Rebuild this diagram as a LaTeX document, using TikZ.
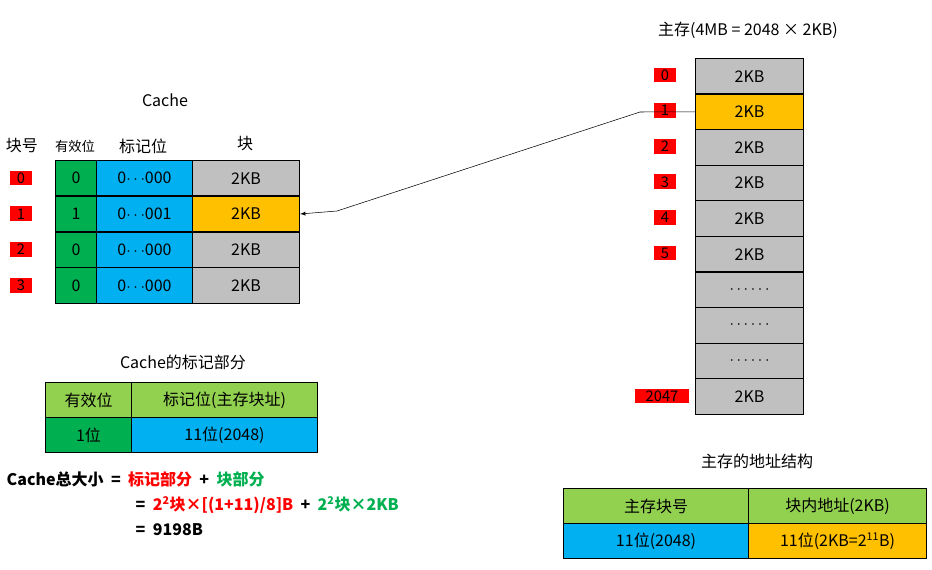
\documentclass[tikz,border=0pt]{standalone}
\usepackage{fontspec}
\setmainfont{Noto Sans CJK SC}
\begin{document}
\begin{tikzpicture}[x=0.75pt,y=-0.75pt,font=\fontsize{12}{14}\selectfont,
 cell/.style={draw=black,line width=0.8pt,minimum width=#1*0.75pt,minimum height=26.5pt,inner sep=0pt,anchor=north west},
 lab/.style={fill=red,minimum width=16pt,minimum height=11pt,inner sep=0pt,font=\fontsize{11}{12}\selectfont},
 gr/.style={fill=gray!50}, og/.style={fill=orange!50!yellow}]
\definecolor{cgreen}{HTML}{00B050}\definecolor{cblue}{HTML}{00B0F0}
\definecolor{lgreen}{HTML}{92D050}\definecolor{corange}{HTML}{FFC000}
\definecolor{cgray}{HTML}{C0C0C0}
\useasboundingbox (0,0) rectangle (932,570);
\node (ct) at (165,100) {Cache};
\node (h1) at (22,146) {块号};
\node[font=\fontsize{10}{12}\selectfont] (h2) at (75,146) {有效位};
\node (h3) at (143,146) {标记位};
\node (h4) at (245,144) {块};
\foreach \i/\v/\t/\c in {0/0/000/cgray,1/1/001/corange,2/0/000/cgray,3/0/000/cgray}{
 \node[lab] (l\i) at (21,{178+35.8*\i}) {\i};
 \node[cell=41,fill=cgreen] (v\i) at (55,{160+35.8*\i}) {\v};
 \node[cell=96,fill=cblue] (t\i) at (96,{160+35.8*\i}) {0$\cdots$\t};
 \node[cell=107,fill=\c] (b\i) at (192,{160+35.8*\i}) {2KB};
}
\node (mt) at (748,30) {主存(4MB = 2048 × 2KB)};
\foreach \i/\t/\c in {0/2KB/cgray,1/2KB/corange,2/2KB/cgray,3/2KB/cgray,4/2KB/cgray,5/2KB/cgray,6/{$\cdots\cdots$}/cgray,7/{$\cdots\cdots$}/cgray,8/{$\cdots\cdots$}/cgray,9/2KB/cgray}{
 \node[cell=108,fill=\c] (m\i) at (695,{58+35.6*\i}) {\t};
}
\foreach \i in {0,...,5}{\node[lab] (ml\i) at (665,{75+35.6*\i}) {\i};}
\node[lab,minimum width=41pt] (ml9) at (662,396) {2047};
\coordinate (k1) at (640,112);
\coordinate (k2) at (337,211);
\draw[-latex] (m1.west) -- (k1) -- (k2) -- (b1.east);
\node (tt) at (183,362) {Cache的标记部分};
\node[cell=86,fill=lgreen] (a1) at (45,382) {有效位};
\node[cell=186,fill=lgreen] (a2) at (131,382) {标记位(主存块址)};
\node[cell=86,fill=cgreen] (a3) at (45,417) {1位};
\node[cell=186,fill=cblue] (a4) at (131,417) {11位(2048)};
\node[anchor=west,font=\fontsize{12}{14}\selectfont\bfseries] (f1) at (2,479) {Cache总大小 \ = \ \textcolor{red}{标记部分} \ + \ \textcolor{cgreen}{块部分}};
\node[anchor=west,font=\fontsize{12}{14}\selectfont\bfseries] (f2) at (131,505) {= \ \textcolor{red}{2\textsuperscript{2}块×[(1+11)/8]B} \ + \ \textcolor{cgreen}{2\textsuperscript{2}块×2KB}};
\node[anchor=west,font=\fontsize{12}{14}\selectfont\bfseries] (f3) at (131,530) {= \ 9198B};
\node (st) at (757,461) {主存的地址结构};
\node[cell=185,fill=lgreen] (s1) at (563,488) {主存块号};
\node[cell=178,fill=lgreen] (s2) at (748,488) {块内地址(2KB)};
\node[cell=185,fill=cblue] (s3) at (563,523) {11位(2048)};
\node[cell=178,fill=corange] (s4) at (748,523) {11位(2KB=2\textsuperscript{11}B)};
\end{tikzpicture}
\end{document}
